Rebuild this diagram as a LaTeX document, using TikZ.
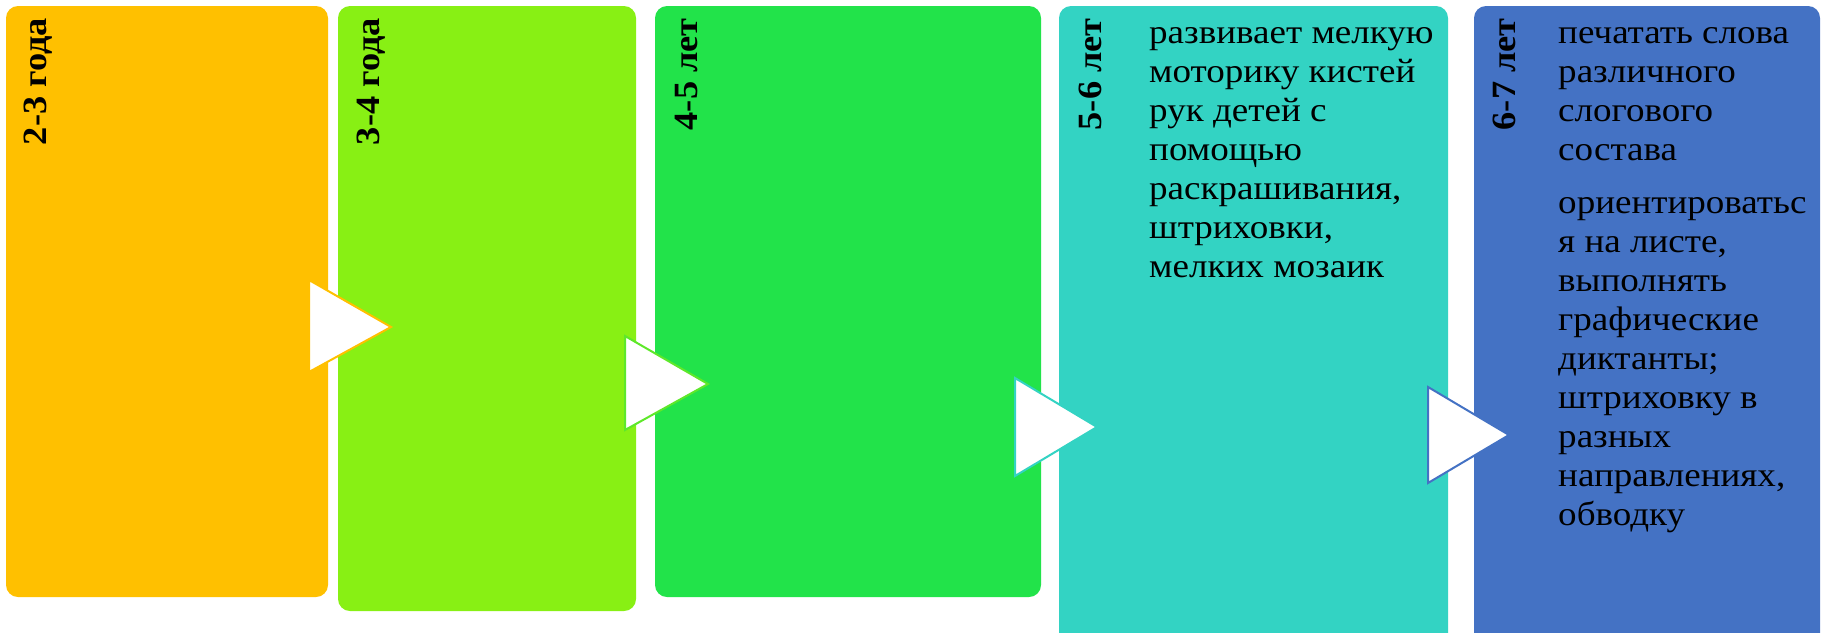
\documentclass[tikz,border=0pt]{standalone}
\usepackage{fontspec}
\setmainfont{Liberation Serif}
\newfontfamily\bodyfont[FakeStretch=1.09]{Liberation Serif}
\newfontfamily\labelfont[FakeStretch=1.07]{Liberation Serif}
\definecolor{cA}{HTML}{FFC000}
\definecolor{cB}{HTML}{88F014}
\definecolor{cC}{HTML}{22E34A}
\definecolor{cD}{HTML}{33D3C3}
\definecolor{cE}{HTML}{4472C4}
\definecolor{cArB}{HTML}{5EE82A}
\tikzset{
  stagebox/.style={rounded corners=12pt},
  agelabel/.style={rotate=90, anchor=base east, inner sep=0pt, font=\labelfont\fontsize{34}{39}\selectfont\bfseries},
  bodytext/.style={anchor=base west, inner sep=0pt, font=\bodyfont\fontsize{34}{39}\selectfont},
  stagearrow/.style={fill=white, line width=2pt, line join=miter},
}
\begin{document}
\begin{tikzpicture}[x=1pt,y=-1pt]
\useasboundingbox (0,0) rectangle (1825,632);
% boxes
\fill[cA, stagebox] (6,6) rectangle (328,597);
\fill[cB, stagebox] (338,6) rectangle (636,611);
\fill[cC, stagebox] (655,6) rectangle (1041,597);
\fill[cD, stagebox] (1059,6) rectangle (1448,645);
\fill[cE, stagebox] (1474,6) rectangle (1820,645);
% age labels
\node[agelabel] (l1) at (46,18) {2-3 года};
\node[agelabel] (l2) at (379,18) {3-4 года};
\node[agelabel] (l3) at (697,18) {4-5 лет};
\node[agelabel] (l4) at (1101,18) {5-6 лет};
\node[agelabel] (l5) at (1515,18) {6-7 лет};
% body texts
\node[bodytext] (t4) at (1149,43) {\begin{tabular}[t]{@{}l@{}}развивает мелкую\\моторику кистей\\рук детей с\\помощью\\раскрашивания,\\штриховки,\\мелких мозаик\end{tabular}};
\node[bodytext] (t5) at (1558,43) {\begin{tabular}[t]{@{}l@{}}печатать слова\\различного\\слогового\\состава\\[14pt]ориентироватьс\\я на листе,\\выполнять\\графические\\диктанты;\\штриховку в\\разных\\направлениях,\\обводку\end{tabular}};
% arrows
\draw[stagearrow, draw=cA] (309,280) -- (391,327) -- (309,372) -- cycle;
\draw[stagearrow, draw=cArB] (625,336) -- (708,384) -- (625,430) -- cycle;
\draw[stagearrow, draw=cD] (1015,378) -- (1097,427) -- (1015,476) -- cycle;
\draw[stagearrow, draw=cE] (1428,387) -- (1509,435) -- (1428,483) -- cycle;
\end{tikzpicture}
\end{document}
